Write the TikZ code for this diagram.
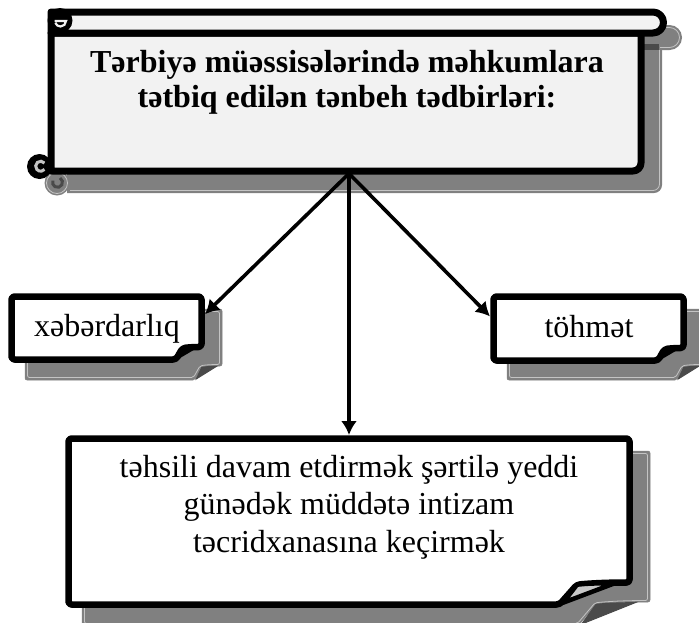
\documentclass[tikz,border=0pt]{standalone}
\usepackage{fontspec}
\setmainfont{Liberation Serif}
\usetikzlibrary{arrows.meta,calc}
\definecolor{shd}{HTML}{808080}
\definecolor{shdl}{HTML}{C4C4C4}
\definecolor{shdd}{HTML}{4A4A4A}
\definecolor{ttl}{HTML}{F2F2F2}
\definecolor{flapl}{HTML}{C8C8C8}
% folded-corner box outline: x0 y0 x1 y1 foldwidth foldheight style
\newcommand\foldedbox[7]{%
  \draw[#7] (#1,#2) -- (#3,#2) -- (#3,{#4-#6})
    .. controls ({#3-0.35*#5},{#4-#6}) and ({#3-0.6*#5},{#4-0.95*#6}) ..
    ({#3-0.75*#5},{#4-0.9*#6}) -- ({#3-#5},#4) -- (#1,#4) -- cycle;}
% flap of the fold: x1 y1 foldwidth foldheight style
\newcommand\foldflap[5]{%
  \draw[#5] ({#1-0.75*#3},{#2-0.9*#4})
    .. controls ({#1-0.6*#3},{#2-0.95*#4}) .. ({#1-0.2*#3},{#2-0.98*#4})
    -- ({#1-0.95*#3},{#2-0.08*#4}) -- cycle;}
\begin{document}
\begin{tikzpicture}[x=1pt,y=-1pt,
  area/.style={inner sep=0pt,outer sep=3.5pt,draw=none},
  boxline/.style={line width=6.5pt,fill=white,rounded corners=3pt,line join=round},
  shadowfill/.style={fill=shd,draw=shd,line width=0.5pt,rounded corners=2pt},
  shadowline/.style={draw=shdl,line width=0.8pt,rounded corners=2pt},
  txt/.style={font=\fontsize{32}{37}\selectfont,inner sep=0pt},
  ttxt/.style={font=\bfseries\fontsize{32}{36}\selectfont,inner sep=0pt},
  arr/.style={line width=3.6pt,-{Latex[length=14pt,width=16pt]}}]
\useasboundingbox (0,0) rectangle (699,622);
\fill[white] (0,0) rectangle (699,622);

% ---------- shadows ----------
% scroll shadow
\fill[shd] (67,25) -- (669.5,25) arc(-90:90:12.5) -- (67,50) -- cycle;
\draw[shdl,line width=0.8pt] (660,27.5) -- (669.5,27.5) arc(-90:90:10) -- (660,47.5);
\fill[shd] (67,50) -- (662,50) -- (662,185) arc(0:90:8) -- (67,193) -- cycle;
\draw[shdl,line width=0.8pt] (659.5,50) -- (659.5,184) arc(0:90:6.5) -- (70,190.5);
\fill[shdd] (644,44) rectangle (659,50);
\fill[shd] (57,183) circle (12.5);
\draw[shdl,line width=0.8pt] (57,183) circle (10.5);
\draw[shdd,line width=3pt] (60,178) arc(-60:200:5);
% small box shadows
\foldedbox{25}{309}{222}{380}{27}{14}{shadowfill}
\foldedbox{27.5}{311.5}{219.5}{377.5}{26}{13}{shadowline}
\foldflap{222}{380}{27}{14}{fill=shdd,draw=shdd,line width=1pt}
\foldedbox{507}{309}{704}{380}{27}{14}{shadowfill}
\foldedbox{509.5}{311.5}{701.5}{377.5}{26}{13}{shadowline}
\foldflap{704}{380}{27}{14}{fill=shdd,draw=shdd,line width=1pt}
% bottom box shadow
\foldedbox{82}{451}{650}{626}{72}{24}{shadowfill}
\foldedbox{84.5}{453.5}{647.5}{623.5}{70}{23}{shadowline}
\foldflap{650}{626}{72}{24}{fill=shdd,draw=shdd,line width=1pt}

% ---------- title scroll ----------
\node[area,minimum width=591pt,minimum height=138pt] (T) at (345.5,102) {};
\draw[line width=7pt,fill=ttl,line join=round] (51,33) -- (641,33) -- (641,163) arc(0:90:8) -- (51,171) -- cycle;
\draw[line width=7pt,fill=ttl,line join=round] (51,12) -- (653,12) arc(-90:90:10.5) -- (51,33) -- cycle;
\fill[black] (60,20.5) circle (12.5);
\draw[ttl,line width=2.2pt] (54.5,21) -- (66,21) arc(0:160:5.5);
\fill[black] (39.5,166.5) circle (12.5);
\draw[shdl,line width=3pt] (44.5,163) arc(-40:-320:5);
\node[ttxt,anchor=base] (t1) at (347,72) {Tərbiyə müəssisələrində məhkumlara};
\node[ttxt,anchor=base] (t2) at (347,107) {tətbiq edilən tənbeh tədbirləri:};

% ---------- small boxes ----------
\node[area,minimum width=190pt,minimum height=63pt] (L) at (106.5,328) {};
\foldedbox{11.5}{296.5}{201.5}{359.5}{25.5}{12.5}{boxline}
\foldflap{201.5}{359.5}{25.5}{12.5}{fill=black,draw=black,line width=2pt}
\node[txt,anchor=base] (Lt) at (107,336) {xəbərdarlıq};

\node[area,minimum width=190pt,minimum height=64pt] (R) at (588.5,328.5) {};
\foldedbox{493.5}{296.5}{683.5}{360.5}{25.5}{12.5}{boxline}
\foldflap{683.5}{360.5}{25.5}{12.5}{fill=black,draw=black,line width=2pt}
\node[txt,anchor=base] (Rt) at (589,337) {töhmət};

% ---------- bottom box ----------
\node[area,minimum width=561pt,minimum height=166pt] (B) at (349,521.5) {};
\foldedbox{68.5}{438.5}{629.5}{604.5}{70}{22}{boxline}
\foldflap{629.5}{604.5}{70}{22}{fill=flapl,draw=black,line width=4.5pt,line join=round}
\node[txt,anchor=base] (b1) at (349,477) {təhsili davam etdirmək şərtilə yeddi};
\node[txt,anchor=base] (b2) at (349,514.5) {günədək müddətə intizam};
\node[txt,anchor=base] (b3) at (349,552) {təcridxanasına keçirmək};

% ---------- arrows ----------
\coordinate (s) at ($(T.south)+(3.5,-1)$);
\draw[arr] (s) -- (L.8);
\draw[arr] (s) -- (R.173);
\draw[arr] (s) -- (B.north);
\end{tikzpicture}
\end{document}
